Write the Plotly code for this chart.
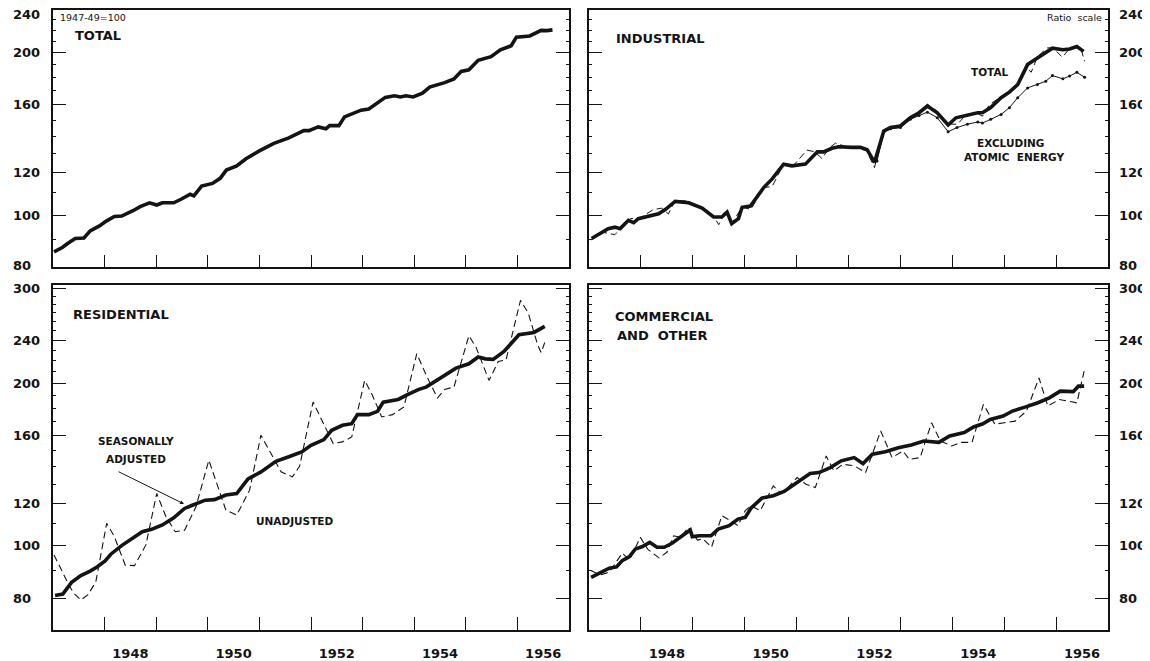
import numpy as np
import plotly.graph_objects as go

# Target picture is 1150x661; the page body adds an 8px margin, so the figure
# itself is drawn 8px smaller and every target pixel position is offset by 8.
WIN_W, WIN_H = 1150, 661
OFF = 8
W, H = WIN_W - OFF, WIN_H - OFF

# ---------------- data (index 1947-49 = 100) ----------------
total_x = [1947.02, 1947.18, 1947.29, 1947.43, 1947.60, 1947.72, 1947.90, 1948.04, 1948.19, 1948.33,
           1948.55, 1948.69, 1948.87, 1949.01, 1949.12, 1949.34, 1949.48, 1949.66, 1949.73, 1949.88,
           1950.09, 1950.24, 1950.36, 1950.56, 1950.74, 1950.99, 1951.28, 1951.57, 1951.86, 1951.96,
           1952.14, 1952.29, 1952.36, 1952.54, 1952.65, 1952.86, 1952.97, 1953.12, 1953.44, 1953.62,
           1953.73, 1953.84, 1953.98, 1954.16, 1954.30, 1954.59, 1954.77, 1954.91, 1955.06, 1955.24,
           1955.49, 1955.67, 1955.88, 1955.98, 1956.24, 1956.46, 1956.57, 1956.68]
total_y = [85.5, 87.1, 88.7, 90.5, 90.7, 93.5, 95.5, 97.6, 99.4, 99.6,
           101.9, 103.7, 105.4, 104.4, 105.4, 105.4, 107.0, 109.3, 108.6, 113.2,
           114.5, 117.0, 121.2, 123.3, 127.2, 131.4, 135.8, 139.0, 143.4, 143.4,
           145.7, 144.5, 146.5, 146.5, 152.1, 154.7, 156.5, 157.3, 165.3, 166.4,
           165.6, 166.4, 165.6, 168.3, 172.7, 176.0, 178.8, 184.6, 185.9, 193.6,
           196.7, 202.4, 206.0, 213.7, 214.8, 220.0, 219.8, 220.5]

ind_x = [1947.05, 1947.21, 1947.37, 1947.50, 1947.60, 1947.76, 1947.86, 1947.95, 1948.11, 1948.34,
         1948.47, 1948.66, 1948.92, 1949.18, 1949.40, 1949.56, 1949.66, 1949.75, 1949.88, 1949.95,
         1950.11, 1950.37, 1950.53, 1950.75, 1950.91, 1951.17, 1951.40, 1951.52, 1951.68, 1951.81,
         1952.07, 1952.23, 1952.36, 1952.50, 1952.68, 1952.81, 1953.00, 1953.19, 1953.36, 1953.52,
         1953.71, 1953.92, 1954.07, 1954.29, 1954.49, 1954.58, 1954.74, 1954.94, 1955.10, 1955.26,
         1955.45, 1955.64, 1955.80, 1955.93, 1956.13, 1956.26, 1956.40, 1956.53]
ind_y = [90.5, 92.4, 94.4, 95.0, 94.4, 97.8, 96.8, 98.5, 99.2, 100.6,
         102.4, 106.0, 105.4, 103.1, 99.2, 99.2, 101.3, 96.4, 98.5, 103.4,
         103.9, 112.6, 116.7, 124.3, 123.4, 124.3, 131.0, 131.0, 133.0, 133.9,
         133.5, 133.5, 132.2, 125.2, 143.2, 145.3, 146.3, 151.5, 154.8, 159.3,
         154.8, 146.9, 151.5, 153.0, 154.8, 154.8, 158.2, 165.0, 169.0, 174.6,
         190.1, 195.5, 199.7, 203.9, 202.5, 203.2, 205.4, 201.1]

ind_unadj_x = [1947.05, 1947.25, 1947.50, 1947.65, 1947.80, 1948.00, 1948.24, 1948.40, 1948.53, 1948.66,
               1948.90, 1949.15, 1949.40, 1949.50, 1949.62, 1949.75, 1949.95, 1950.12, 1950.37, 1950.53,
               1950.62, 1950.75, 1950.92, 1951.20, 1951.35, 1951.49, 1951.62, 1951.75, 1951.95, 1952.15,
               1952.35, 1952.50, 1952.68, 1952.85, 1953.00, 1953.20, 1953.36, 1953.52, 1953.72, 1953.92,
               1954.10, 1954.25, 1954.45, 1954.58, 1954.72, 1954.94, 1955.10, 1955.26, 1955.42, 1955.52,
               1955.64, 1955.82, 1955.93, 1956.12, 1956.26, 1956.40, 1956.48, 1956.55]
ind_unadj_y = [90.0, 93.0, 92.0, 95.5, 98.5, 99.0, 102.4, 103.0, 100.5, 106.5,
               106.2, 103.5, 99.5, 96.0, 102.0, 96.4, 103.5, 102.5, 112.5, 113.0,
               117.5, 124.5, 123.0, 132.0, 131.0, 127.3, 133.0, 136.0, 134.0, 133.5,
               131.5, 122.5, 142.5, 145.0, 145.8, 151.0, 155.5, 160.5, 155.5, 147.5,
               147.4, 153.0, 155.0, 152.5, 160.5, 165.5, 169.5, 175.0, 188.0, 184.0,
               196.5, 204.0, 204.5, 196.3, 203.5, 206.0, 203.0, 192.7]

ind_excl_x = [1952.55, 1952.68, 1952.81, 1953.00, 1953.19, 1953.36, 1953.52, 1953.71, 1953.92, 1954.09,
              1954.29, 1954.49, 1954.58, 1954.74, 1954.94, 1955.10, 1955.26, 1955.45, 1955.64, 1955.80,
              1955.93, 1956.13, 1956.26, 1956.40, 1956.55]
ind_excl_y = [126.0, 142.5, 144.5, 145.3, 150.5, 153.0, 155.2, 151.5, 142.8, 145.3,
              147.4, 148.8, 148.1, 150.5, 153.7, 158.2, 165.0, 172.1, 174.6, 177.0,
              181.4, 178.9, 181.0, 183.9, 180.1]

res_adj_x = [1947.04, 1947.19, 1947.36, 1947.54, 1947.72, 1947.86, 1948.01, 1948.12, 1948.33, 1948.55,
             1948.73, 1948.91, 1949.12, 1949.34, 1949.55, 1949.70, 1949.95, 1950.13, 1950.35, 1950.56,
             1950.78, 1951.03, 1951.32, 1951.57, 1951.82, 1952.00, 1952.25, 1952.40, 1952.61, 1952.79,
             1952.90, 1953.12, 1953.29, 1953.40, 1953.69, 1953.87, 1954.09, 1954.23, 1954.41, 1954.59,
             1954.81, 1955.06, 1955.24, 1955.38, 1955.53, 1955.74, 1955.88, 1956.03, 1956.32, 1956.53]
res_adj_y = [80.9, 81.4, 85.6, 88.1, 89.8, 91.5, 93.8, 96.5, 100.1, 103.3,
             106.2, 107.3, 109.3, 112.7, 117.3, 118.9, 121.5, 121.8, 124.2, 125.0,
             133.0, 137.1, 143.4, 146.2, 149.3, 153.5, 157.3, 163.7, 167.2, 168.4,
             175.0, 175.0, 177.5, 184.6, 186.7, 190.5, 194.9, 196.8, 201.7, 206.9,
             213.4, 217.4, 223.7, 222.0, 221.5, 229.1, 236.6, 246.0, 248.5, 255.0]

res_unadj_x = [1947.02, 1947.14, 1947.29, 1947.40, 1947.54, 1947.68, 1947.83, 1948.04, 1948.19, 1948.40,
               1948.58, 1948.80, 1949.01, 1949.19, 1949.37, 1949.55, 1949.77, 1950.02, 1950.20, 1950.35,
               1950.56, 1950.81, 1951.03, 1951.28, 1951.42, 1951.64, 1951.78, 1952.04, 1952.22, 1952.43,
               1952.61, 1952.79, 1953.04, 1953.19, 1953.37, 1953.58, 1953.80, 1954.05, 1954.23, 1954.45,
               1954.59, 1954.77, 1955.06, 1955.20, 1955.45, 1955.63, 1955.78, 1956.06, 1956.21, 1956.39,
               1956.46, 1956.53]
res_unadj_y = [96.2, 90.9, 85.3, 81.7, 79.4, 81.2, 85.8, 110.1, 104.0, 92.1,
               91.9, 100.4, 125.0, 113.2, 106.2, 106.9, 118.1, 144.1, 127.7, 116.5,
               114.0, 126.8, 160.3, 145.1, 137.1, 134.2, 140.5, 184.6, 169.6, 154.7,
               155.8, 159.1, 202.5, 190.0, 173.3, 175.0, 180.8, 226.9, 207.4, 187.8,
               194.9, 196.8, 245.0, 233.0, 202.5, 219.6, 221.0, 285.0, 270.0, 236.0,
               228.0, 238.0]

com_adj_x = [1947.04, 1947.21, 1947.39, 1947.53, 1947.64, 1947.78, 1947.89, 1948.03, 1948.17, 1948.31,
             1948.45, 1948.60, 1948.77, 1948.95, 1948.99, 1949.13, 1949.35, 1949.49, 1949.70, 1949.87,
             1950.01, 1950.12, 1950.33, 1950.55, 1950.76, 1950.97, 1951.26, 1951.43, 1951.65, 1951.86,
             1952.11, 1952.28, 1952.46, 1952.71, 1952.96, 1953.21, 1953.45, 1953.74, 1953.95, 1954.23,
             1954.41, 1954.59, 1954.73, 1954.98, 1955.16, 1955.40, 1955.65, 1955.87, 1956.08, 1956.33,
             1956.43, 1956.54]
com_adj_y = [87.4, 89.0, 90.9, 91.4, 93.9, 95.5, 98.6, 99.7, 101.5, 99.4,
             99.4, 101.1, 103.7, 107.0, 104.0, 104.4, 104.4, 107.4, 109.0, 112.1,
             112.9, 117.4, 122.6, 123.8, 126.1, 130.1, 136.1, 136.7, 139.6, 143.7,
             145.7, 142.0, 147.8, 149.4, 152.0, 153.8, 156.4, 155.5, 159.8, 162.1,
             166.0, 168.3, 171.4, 173.9, 177.7, 180.7, 184.1, 188.0, 193.4, 193.0,
             197.6, 197.6]

com_unadj_x = [1947.04, 1947.21, 1947.39, 1947.64, 1947.78, 1947.99, 1948.13, 1948.35, 1948.50, 1948.63,
               1948.77, 1948.91, 1949.09, 1949.20, 1949.36, 1949.56, 1949.73, 1949.87, 1950.01, 1950.12,
               1950.30, 1950.55, 1950.69, 1950.83, 1951.01, 1951.18, 1951.36, 1951.57, 1951.72, 1951.89,
               1952.11, 1952.33, 1952.62, 1952.84, 1953.05, 1953.17, 1953.38, 1953.60, 1953.77, 1953.99,
               1954.16, 1954.38, 1954.60, 1954.82, 1955.00, 1955.21, 1955.43, 1955.67, 1955.84, 1956.06,
               1956.30, 1956.40, 1956.54]
com_unadj_y = [90.0, 88.3, 89.4, 96.9, 94.2, 103.7, 98.6, 95.0, 97.3, 104.4,
               103.7, 108.2, 102.5, 103.0, 99.4, 113.7, 111.3, 109.0, 116.2, 118.6,
               116.2, 129.1, 125.5, 128.2, 133.8, 130.1, 128.2, 146.7, 137.7, 141.6,
               140.7, 136.7, 163.2, 145.7, 149.9, 144.6, 145.7, 169.0, 156.4, 153.1,
               155.5, 155.5, 182.8, 168.0, 169.0, 170.2, 177.7, 204.7, 181.5, 186.6,
               184.9, 184.0, 210.6]

year_ticks = [1948, 1949, 1950, 1951, 1952, 1953, 1954, 1955, 1956]
year_label_pos = [1948.5, 1950.5, 1952.5, 1954.5, 1956.5]
year_labels = ["1948", "1950", "1952", "1954", "1956"]
top_ticks = [80, 100, 120, 160, 200, 240]
bot_ticks = [80, 100, 120, 160, 200, 240, 300]
top_minor = [90, 110, 130, 140, 150, 170, 180, 190, 210, 220, 230]
bot_minor = [90, 110, 130, 140, 150, 170, 180, 190, 210, 220, 230, 250, 260, 270, 280, 290]

# ---------------- layout geometry (target picture pixels) ----------------
LX = (53, 569)
RX = (589, 1108)
TY = (10, 269)
BY = (287, 634)


def px(x):
    return (x - OFF) / W


def py(y):
    return 1 - (y - OFF) / H


def xdom(a):
    return [px(a[0]), px(a[1])]


def ydom(a):
    return [py(a[1]), py(a[0])]


INK = "#141414"
BOLD = dict(family="DejaVu Sans", size=13, color=INK, weight="bold")

fig = go.Figure()


def thick(x, y, xa, ya):
    fig.add_trace(go.Scatter(x=x, y=y, mode="lines", xaxis=xa, yaxis=ya,
                             line=dict(color=INK, width=3.6), showlegend=False))


def dashed(x, y, xa, ya, w=1.1):
    fig.add_trace(go.Scatter(x=x, y=y, mode="lines", xaxis=xa, yaxis=ya,
                             line=dict(color=INK, width=w, dash="7px,4px"), showlegend=False))


# Total
thick(total_x, total_y, "x", "y")
# Industrial
fig.add_trace(go.Scatter(x=ind_excl_x, y=ind_excl_y, mode="lines+markers", xaxis="x2", yaxis="y2",
                         line=dict(color=INK, width=1.0), marker=dict(size=3, color=INK),
                         showlegend=False))
dashed(ind_unadj_x, ind_unadj_y, "x2", "y2", w=1.0)
thick(ind_x, ind_y, "x2", "y2")
# Residential
dashed(res_unadj_x, res_unadj_y, "x3", "y3")
thick(res_adj_x, res_adj_y, "x3", "y3")
# Commercial
dashed(com_unadj_x, com_unadj_y, "x4", "y4")
thick(com_adj_x, com_adj_y, "x4", "y4")


def xaxis(dom, anchor, labels):
    return dict(domain=xdom(dom), anchor=anchor, range=[1947, 1957],
                tickmode="array", tickvals=year_label_pos, ticktext=year_labels,
                ticks="inside", ticklen=0, showticklabels=labels,
                tickfont=BOLD, ticklabelstandoff=10,
                minor=dict(tickmode="array", tickvals=year_ticks, ticks="inside",
                           ticklen=13, tickwidth=1.2, tickcolor=INK),
                showgrid=False, zeroline=False, showline=True, linecolor=INK,
                linewidth=1.6, mirror=True, fixedrange=True)


def yaxis(dom, anchor, rng, ticks, minor, side):
    return dict(domain=ydom(dom), anchor=anchor, type="log",
                range=[np.log10(rng[0]), np.log10(rng[1])],
                tickmode="array", tickvals=ticks, ticktext=[str(t) for t in ticks],
                ticks="inside", ticklen=13, tickwidth=1.2, tickcolor=INK,
                side=side, showticklabels=False,
                minor=dict(tickmode="array", tickvals=minor, ticks="inside",
                           ticklen=3, tickwidth=1, tickcolor=INK),
                showgrid=False, zeroline=False, showline=True, linecolor=INK,
                linewidth=1.6, mirror="ticks", fixedrange=True)


TOP_RANGE = (80, 240)
BOT_RANGE = (69.8, 303.8)

fig.update_layout(
    width=W, height=H, margin=dict(l=0, r=0, t=0, b=0),
    paper_bgcolor="white", plot_bgcolor="white",
    xaxis=xaxis(LX, "y", False),
    yaxis=yaxis(TY, "x", TOP_RANGE, top_ticks, top_minor, "left"),
    xaxis2=xaxis(RX, "y2", False),
    yaxis2=yaxis(TY, "x2", TOP_RANGE, top_ticks, top_minor, "right"),
    xaxis3=xaxis(LX, "y3", True),
    yaxis3=yaxis(BY, "x3", BOT_RANGE, bot_ticks, bot_minor, "left"),
    xaxis4=xaxis(RX, "y4", True),
    yaxis4=yaxis(BY, "x4", BOT_RANGE, bot_ticks, bot_minor, "right"),
)

ann = []

# ratio-scale tick labels: left-aligned columns at both sides, placed on the axes' own scale
for yref, vals, xcol in (("y", top_ticks, 11), ("y3", bot_ticks, 11),
                         ("y2", top_ticks, 1117), ("y4", bot_ticks, 1117)):
    top_v = vals[-1]
    for v in vals:
        shift = -5 if (v == top_v and yref in ("y", "y2")) else 0
        if v == 80 and yref in ("y", "y2"):
            shift = 2
        ann.append(dict(x=px(xcol), xref="paper", xanchor="left", y=np.log10(v), yref=yref,
                        yanchor="middle", yshift=shift, text=str(v), showarrow=False, font=BOLD))


def txt(x, y, s, size=13, anchor="left", bold=True):
    f = dict(family="DejaVu Sans", size=size, color=INK)
    if bold:
        f["weight"] = "bold"
    ann.append(dict(x=px(x), y=py(y), xref="paper", yref="paper", text=s,
                    xanchor=anchor, yanchor="middle", showarrow=False, font=f))


txt(73, 36, "TOTAL")
txt(614, 39, "INDUSTRIAL")
txt(71, 316, "RESIDENTIAL")
txt(613, 318, "COMMERCIAL")
txt(615, 338, "AND  OTHER")
txt(990, 72, "TOTAL", size=10.5, anchor="center")
txt(1010, 144, "EXCLUDING", size=10.5, anchor="center")
txt(1014, 158, "ATOMIC  ENERGY", size=10.5, anchor="center")
txt(136, 444, "SEASONALLY", size=10.5, anchor="center")
txt(136, 462, "ADJUSTED", size=10.5, anchor="center")
txt(294, 524, "UNADJUSTED", size=10.5, anchor="center")
# unit / scale notes (sit just inside the top panels, the strip above is too thin)
txt(58, 18, "1947-49=100", size=9.5, bold=False)
txt(1104, 18, "Ratio  scale", size=9.5, anchor="right", bold=False)

# arrow from "SEASONALLY ADJUSTED" to the adjusted line
ann.append(dict(x=px(184), y=py(507), xref="paper", yref="paper", ax=-67, ay=-33,
                text="", showarrow=True, arrowhead=2, arrowsize=0.8, arrowwidth=1,
                arrowcolor=INK))

fig.update_layout(annotations=ann)
fig.write_html("out.html")
